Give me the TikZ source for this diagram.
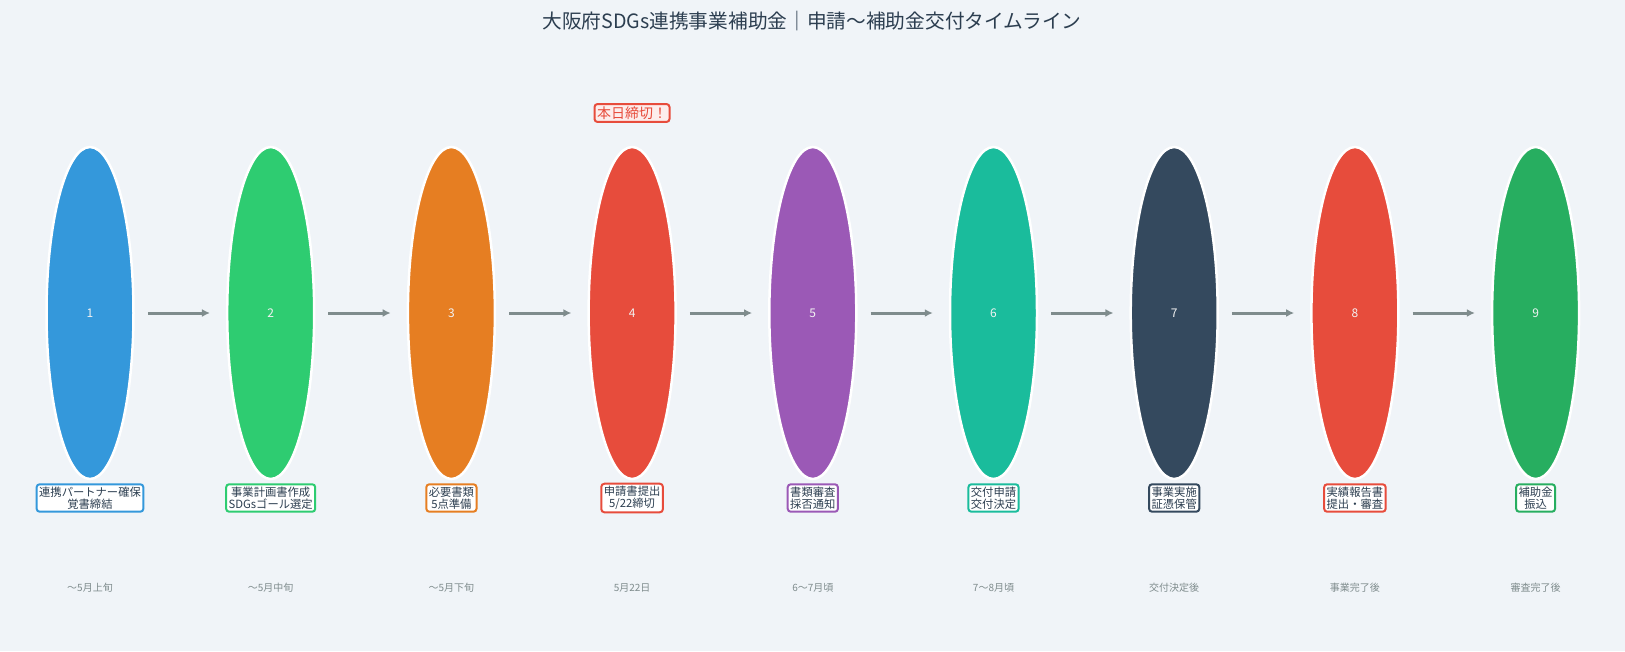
\documentclass[tikz,border=0pt]{standalone}
\usepackage{fontspec}
\setmainfont{Noto Sans CJK JP}
\usetikzlibrary{arrows.meta,shapes.geometric}

\definecolor{bgpaper}{HTML}{F0F4F8}
\definecolor{inkdark}{HTML}{2C3E50}
\definecolor{inkgray}{HTML}{7F8C8D}
\definecolor{stepblue}{HTML}{3498DB}
\definecolor{stepgreen}{HTML}{2ECC71}
\definecolor{steporange}{HTML}{E67E22}
\definecolor{stepred}{HTML}{E74C3C}
\definecolor{steppurple}{HTML}{9B59B6}
\definecolor{stepteal}{HTML}{1ABC9C}
\definecolor{stepnavy}{HTML}{34495E}
\definecolor{stepdeep}{HTML}{27AE60}
\definecolor{alertpink}{HTML}{FDEDEC}

\begin{document}
\begin{tikzpicture}[x=1pt,y=-1pt,
  stage/.style={ellipse,draw=white,line width=2.5pt,minimum width=87pt,minimum height=332pt,inner sep=0pt,
    text=white!90!gray,font=\fontsize{12}{14}\selectfont},
  tag/.style={rectangle,rounded corners=3pt,line width=2pt,fill=white,align=center,inner sep=2.5pt,
    text=inkdark,font=\fontsize{11.3}{12}\selectfont},
  when/.style={text=inkgray,font=\fontsize{10}{11}\selectfont},
  flow/.style={-{Latex[length=8pt,width=8pt]},line width=3pt,draw=inkgray,shorten <=13pt,shorten >=16pt}]

\fill[bgpaper] (0,0) rectangle (1625,651);
\useasboundingbox (0,0) rectangle (1625,651);

\node[text=inkdark,font=\fontsize{19.7}{22}\selectfont] (title) at (812,21) {大阪府SDGs連携事業補助金｜申請〜補助金交付タイムライン};

% nine steps
\foreach \n/\col/\first/\second/\period in {
  1/stepblue/連携パートナー確保/覚書締結/〜5月上旬,
  2/stepgreen/事業計画書作成/SDGsゴール選定/〜5月中旬,
  3/steporange/必要書類/5点準備/〜5月下旬,
  4/stepred/申請書提出/{5/22締切}/5月22日,
  5/steppurple/書類審査/採否通知/6〜7月頃,
  6/stepteal/交付申請/交付決定/7〜8月頃,
  7/stepnavy/事業実施/証憑保管/交付決定後,
  8/stepred/実績報告書/提出・審査/事業完了後,
  9/stepdeep/補助金/振込/審査完了後}{
  \pgfmathsetmacro{\xn}{90+(\n-1)*180.7}
  \node[stage,fill=\col] (s\n) at (\xn,313) {\n};
  \node[tag,draw=\col] (l\n) at (\xn,498) {\first\\\second};
  \node[when] (d\n) at (\xn,588) {\period};
}

\foreach \n [evaluate=\n as \m using int(\n+1)] in {1,...,8}{
  \draw[flow] (s\n) -- (s\m);
}

% deadline flag
\node[rectangle,rounded corners=3pt,line width=2pt,draw=stepred,fill=alertpink,text=stepred,
  font=\fontsize{14}{15}\selectfont,inner sep=2.5pt] (deadline) at (632,113) {本日締切！};

\end{tikzpicture}
\end{document}
